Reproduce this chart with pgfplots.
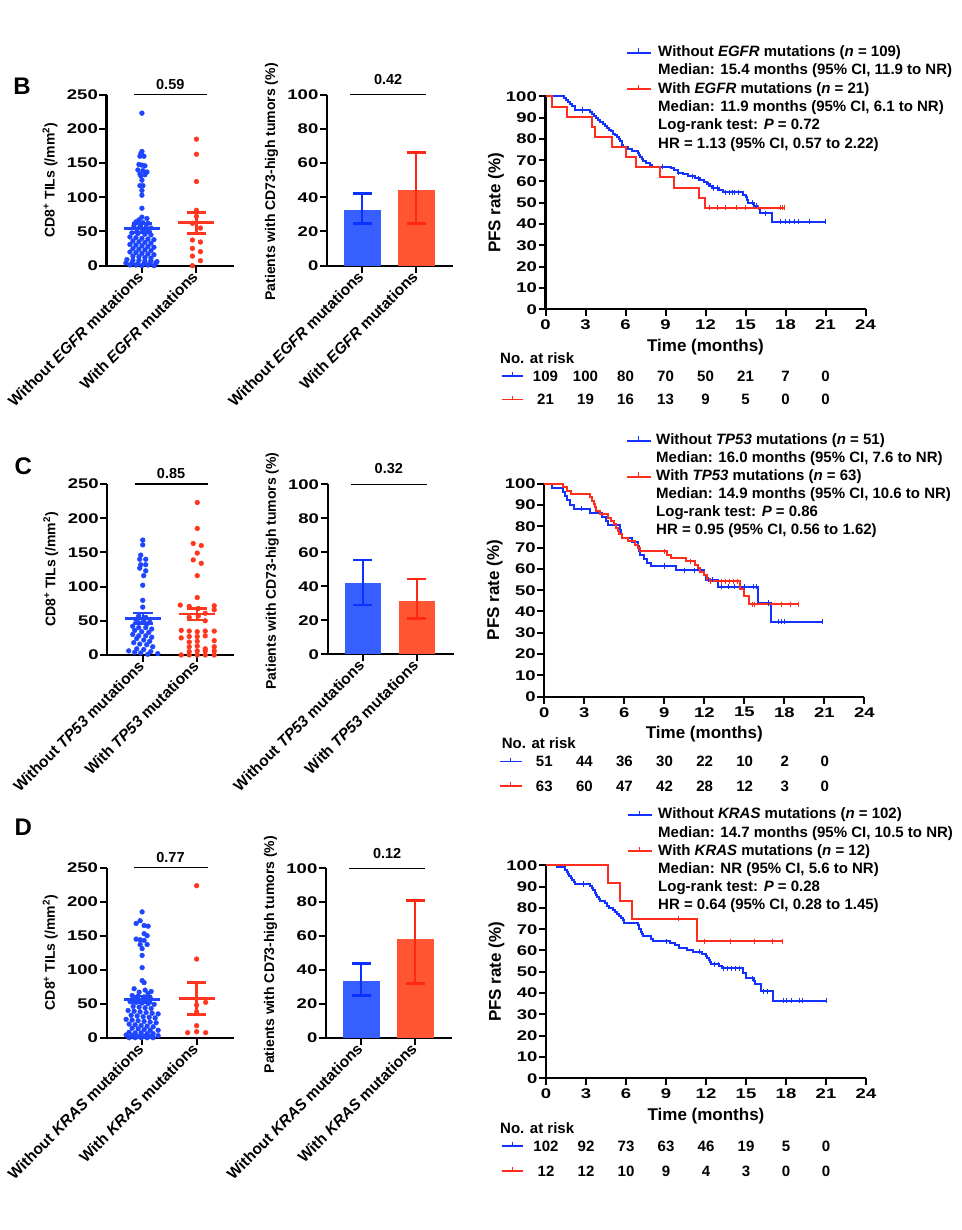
\documentclass[border=0pt]{standalone}
\usepackage{pgfplots}
\pgfplotsset{compat=1.18}
\usepackage{fontspec}
\setmainfont{Liberation Sans}
\newfontfamily\tickfont{Liberation Sans}[FakeStretch=1.32]
\newcommand\fs[1]{\fontsize{#1}{#1}\selectfont\bfseries}
\newcommand\tfs[1]{\tickfont\fontsize{#1}{#1}\selectfont\bfseries}
\definecolor{dotblue}{RGB}{30,70,255}
\definecolor{dotred}{RGB}{255,55,30}
\definecolor{barblue}{RGB}{55,95,255}
\definecolor{barred}{RGB}{255,85,50}
\definecolor{errblue}{RGB}{10,50,255}
\definecolor{errred}{RGB}{255,40,20}
\definecolor{kmblue}{RGB}{20,50,255}
\definecolor{kmred}{RGB}{255,45,30}
\pgfplotsset{
 base/.style={scale only axis, clip=false, anchor=south west,
   axis x line*=bottom, axis y line*=left,
   axis line style={line width=2.2pt, -},
   tick style={black, line width=2pt},
   tick align=outside,
   /pgf/number format/assume math mode=true,
   ticklabel style={font=\tfs{14}},
   yticklabel style={inner sep=1.5pt},
   label style={font=\fs{14}}},
 cat/.style={base, xmin=0.35, xmax=2.68, xtick={1,2}, major tick length=7pt,
   xticklabel style={rotate=45, anchor=east, font=\fs{15.5}, inner sep=2pt}, width=127pt, height=171pt},
 dot/.style={cat, ymin=0, ymax=250, ytick={0,50,...,250},
   ylabel={CD8\textsuperscript{+} TILs (/mm\textsuperscript{2})},
   ylabel style={at={(axis description cs:-0.445,0.5)}, anchor=center}},
 bar/.style={cat, width=126pt, ymin=0, ymax=100, ytick={0,20,...,100},
   ylabel={Patients with CD73-high tumors (\%)},
   ylabel style={at={(axis description cs:-0.44,0.49)}, anchor=center}},
 km/.style={base, width=320pt, height=213pt, xmin=0, xmax=24, ymin=0, ymax=100,
   xtick={0,3,...,24}, ytick={0,10,...,100}, major tick length=7pt,
   ticklabel style={font=\tfs{14}},
   xlabel={Time (months)}, ylabel={PFS rate (\%)}, label style={font=\fs{17}},
   xlabel style={at={(axis description cs:0.5,-0.176)}, anchor=center},
   ylabel style={at={(axis description cs:-0.155,0.5)}, anchor=center}},
 kml/.style={const plot, line width=2pt, mark=none},
 cens/.style={only marks, mark=|, mark size=2.6pt, mark options={line width=1pt}},
 dots/.style={only marks, mark=*, mark size=2.4pt},
 mline/.style={line width=2.4pt},
}
\begin{document}
\begin{tikzpicture}[x=1pt,y=1pt]
\path[use as bounding box] (0,0) rectangle (961,1230);

% ================= ROW B =================
\node[font=\fs{24}] at (22,1144) {B};
\begin{axis}[dot, at={(106.5pt,964.3pt)},
  xticklabels={Without \textit{EGFR} mutations, With \textit{EGFR} mutations}]
\addplot[dots, color=dotblue] table[row sep=\\, x expr=1+\thisrow{dx}/54.5, y=y]{
dx y\\ 0 223\\ 0 167\\ -1 164\\ -2 160\\ 2 160\\ -3 148\\ 0 147\\ 3 146\\ -4 140\\ 1 139\\
5 137\\ -2 134\\ 3 133\\ -1 131\\ 0 125\\ -2 117\\ 1 117\\ 0 110\\ 0 103\\ 0 84\\
0 71\\ 5 69\\ -3 67\\ -6 64\\ 1 63\\ 6 62\\ -8 58\\ -2 57\\ 4 56\\ 9 55\\ -5 53\\ 1 52\\ 6 51\\
-10 48\\ -4 47\\ 3 46\\ 9 45\\ -12 42\\ -6 41\\ 0 40\\ 6 39\\ 12 38\\ -9 36\\ -3 35\\ 3 34\\ 9 33\\
-12 31\\ -6 30\\ 0 29\\ 6 28\\ 12 27\\ -9 25\\ -3 24\\ 3 23\\ 9 22\\ -12 20\\ -6 19\\ 0 18\\ 6 17\\ 12 16\\
-9 14\\ -3 13\\ 3 12\\ 9 11\\ -15 9\\ -9 8\\ -3 8\\ 3 7\\ 9 7\\ 15 6\\ -16 4\\ -10 4\\ -4 3\\ 2 3\\ 8 3\\ 14 4\\
-12 1\\ -6 1\\ 0 0\\ 6 1\\ 12 0\\
};
\addplot[dots, color=dotred] table[row sep=\\, x expr=2+\thisrow{dx}/54.5, y=y]{
dx y\\ 0 185\\ 0 163\\ 0 123\\ 0 81\\ 0 72\\ -4 62\\ 4 55\\ -4 37.5\\ 4 34.6\\ -4 25.3\\ 4 20.5\\ -4 14\\ 4 7.3\\ -4 0\\
};
\addplot[mline, dotblue] coordinates {(0.67,54.6) (1.33,54.6)};
\addplot[mline, dotblue] coordinates {(1,48.7) (1,61.4)};
\addplot[mline, dotblue] coordinates {(0.82,61.4) (1.18,61.4)};
\addplot[mline, dotblue] coordinates {(0.82,48.7) (1.18,48.7)};
\addplot[mline, dotred] coordinates {(1.67,62.9) (2.33,62.9)};
\addplot[mline, dotred] coordinates {(2,47.3) (2,78)};
\addplot[mline, dotred] coordinates {(1.82,78) (2.18,78)};
\addplot[mline, dotred] coordinates {(1.82,47.3) (2.18,47.3)};
\addplot[black, line width=1.3pt] coordinates {(0.86,250) (2.2,250)};
\node[font=\fs{14.5}] at (axis cs:1.52,265) {0.59};
\end{axis}

\begin{axis}[bar, at={(327pt,964.3pt)},
  xticklabels={Without \textit{EGFR} mutations, With \textit{EGFR} mutations}]
\addplot[ybar, bar width=36.7pt, fill=barblue, draw=none] coordinates {(1,32.6)};
\addplot[ybar, bar width=36.7pt, fill=barred, draw=none] coordinates {(2,44.3)};
\addplot[mline, errblue] coordinates {(1,24.6) (1,42.3)};
\addplot[mline, errblue] coordinates {(0.825,42.3) (1.175,42.3)};
\addplot[mline, errblue] coordinates {(0.825,24.6) (1.175,24.6)};
\addplot[mline, errred] coordinates {(2,24.6) (2,66.3)};
\addplot[mline, errred] coordinates {(1.825,66.3) (2.175,66.3)};
\addplot[mline, errred] coordinates {(1.825,24.6) (2.175,24.6)};
\addplot[black, line width=1.3pt] coordinates {(0.78,100) (2.18,100)};
\node[font=\fs{14.5}] at (axis cs:1.48,109) {0.42};
\end{axis}

\begin{axis}[km, at={(545.5pt,920.7pt)}]
\addplot[kml, kmblue] coordinates {(0,100)(1.35,99.1)(1.5,98.2)(1.65,97.2)(1.8,96.3)(2.0,95.4)(2.2,93.6)(3.3,92.7)(3.5,91.7)(3.65,90.8)(3.8,89.9)(3.95,89.0)(4.1,88.1)(4.3,87.1)(4.45,86.2)(4.6,85.3)(4.75,84.4)(4.9,83.5)(5.05,82.5)(5.2,81.6)(5.35,80.7)(5.5,79.8)(5.6,78.9)(5.7,77.0)(5.8,76.1)(6.2,75.2)(6.5,74.3)(6.9,73.3)(7.0,72.4)(7.1,71.5)(7.2,70.6)(7.3,69.6)(7.5,68.7)(7.8,67.8)(8.0,67.0)(9.4,66.1)(9.6,65.2)(9.9,64.2)(10.3,63.3)(10.7,62.4)(11.2,61.5)(11.6,60.5)(11.9,59.6)(12.1,58.7)(12.3,57.8)(12.5,56.9)(13.0,56.0)(13.3,55.0)(14.8,53.8)(15.0,52.5)(15.1,51.2)(15.2,50.0)(15.6,48.7)(15.9,47.4)(16.1,45.1)(17.0,41.1)(21.0,41.1)};
\addplot[cens, kmblue] coordinates {(2.8,93.6)(8.8,67.0)(10.0,64.2)(11.0,62.4)(11.5,61.5)(12.2,58.7)(12.6,56.9)(12.9,56.9)(13.5,55.0)(13.8,55.0)(14.0,55.0)(14.2,55.0)(14.5,55.0)(15.5,50.0)(15.8,48.7)(16.5,45.1)(17.6,41.1)(18.0,41.1)(18.3,41.1)(18.7,41.1)(19.0,41.1)(19.8,41.1)(21.0,41.1)};
\addplot[kml, kmred] coordinates {(0,100)(0.5,95.2)(1.6,90.5)(3.45,85.7)(3.68,81.0)(5.0,76.2)(6.0,71.4)(6.8,66.7)(8.55,61.9)(9.65,57.1)(11.5,52.4)(11.95,47.6)(17.9,47.6)};
\addplot[cens, kmred] coordinates {(12.3,47.6)(12.9,47.6)(13.5,47.6)(14.3,47.6)(15.0,47.6)(16.0,47.6)(17.6,47.6)(17.8,47.6)(17.9,47.6)};
\end{axis}
% legend B
\draw[kmblue, line width=1.8pt] (626.7,1177.3) -- (650.7,1177.3);
\draw[kmblue, line width=1pt] (638.7,1177.3) -- (638.7,1181.5);
\draw[kmred, line width=1.8pt] (626.7,1140.7) -- (650.7,1140.7);
\draw[kmred, line width=1pt] (638.7,1140.7) -- (638.7,1144.9);
\begin{scope}[every node/.style={anchor=west, font=\fs{15}, inner sep=0pt}]
\node at (658,1177.3) {Without \textit{EGFR} mutations (\textit{n} = 109)};
\node at (658,1159.0) {Median: 15.4 months (95\% CI, 11.9 to NR)};
\node at (658,1140.7) {With \textit{EGFR} mutations (\textit{n} = 21)};
\node at (658,1122.4) {Median: 11.9 months (95\% CI, 6.1 to NR)};
\node at (658,1104.1) {Log-rank test: \textit{P} = 0.72};
\node at (658,1085.8) {HR = 1.13 (95\% CI, 0.57 to 2.22)};
\node at (500,871.7) {No. at risk};
\end{scope}
\draw[kmblue, line width=1.5pt] (501.7,854) -- (523.3,854);
\draw[kmblue, line width=0.8pt] (512.5,854) -- (512.5,857.5);
\draw[kmred, line width=1.5pt] (501.7,830.7) -- (523.3,830.7);
\draw[kmred, line width=0.8pt] (512.5,830.7) -- (512.5,834.2);
\foreach \v [count=\i from 0] in {109,100,80,70,50,21,7,0} {\node[font=\fs{15}] at ({545.5+40*\i},854) {\v};}
\foreach \v [count=\i from 0] in {21,19,16,13,9,5,0,0} {\node[font=\fs{15}] at ({545.5+40*\i},830.7) {\v};}

% ================= ROW C =================
\node[font=\fs{24}] at (23.3,764) {C};
\begin{axis}[dot, at={(107.3pt,575pt)},
  xticklabels={Without \textit{TP53} mutations, With \textit{TP53} mutations}]
\addplot[dots, color=dotblue] table[row sep=\\, x expr=1+\thisrow{dx}/54.5, y=y]{
dx y\\ 0 168\\ 0 161\\ -2 146\\ -3 140\\ 3 140\\ -2 132\\ 3 132\\ -3 127\\ 3 123\\ 1 116\\ 0 102\\ 0 80\\ 0 70\\
-4 57\\ 3 55\\ -7 52\\ 1 50\\ 7 48\\ -4 47\\ 4 45\\ -10 42\\ -4 40\\ 3 40\\ 9 38\\ -8 36\\ -1 34\\ 6 33\\
-10 30\\ -4 28\\ 3 28\\ 9 26\\ -6 24\\ 1 22\\ 7 20\\ -9 18\\ -3 16\\ 4 15\\ 10 12\\ -6 9\\ 1 8\\ -14 6\\ 8 5\\ -8 4\\ -2 3\\ 15 2\\ 5 1\\
};
\addplot[dots, color=dotred] table[row sep=\\, x expr=2+\thisrow{dx}/54.5, y=y]{
dx y\\ 0 223\\ 0 185\\ -4 163\\ 4 160\\ 0 149\\ -4 139\\ 4 134\\ 0 116\\ 0 84\\
-17 73\\ -8 71\\ 1 68\\ 17 72\\ 17 66\\ 1 57\\ 8 50\\ -8 55\\ 8 61\\
-16 36\\ -8 35\\ 0 34\\ 8 35\\ 17 35\\ -16 25\\ -8 27\\ 0 27\\ 8 28\\ -8 19\\ 0 20\\ 17 21\\
-8 12\\ 0 13\\ 8 9\\ 17 12\\ -8 5\\ 0 6\\ 8 6\\ 17 6\\ -16 0\\ -8 0\\ 0 0\\ 8 0\\ 17 0\\
};
\addplot[mline, dotblue] coordinates {(0.67,53.6) (1.33,53.6)};
\addplot[mline, dotblue] coordinates {(1,46.3) (1,61)};
\addplot[mline, dotblue] coordinates {(0.82,61) (1.18,61)};
\addplot[mline, dotblue] coordinates {(0.82,46.3) (1.18,46.3)};
\addplot[mline, dotred] coordinates {(1.67,59.5) (2.33,59.5)};
\addplot[mline, dotred] coordinates {(2,51) (2,68)};
\addplot[mline, dotred] coordinates {(1.82,68) (2.18,68)};
\addplot[mline, dotred] coordinates {(1.82,51) (2.18,51)};
\addplot[black, line width=1.3pt] coordinates {(0.86,250) (2.2,250)};
\node[font=\fs{14.5}] at (axis cs:1.52,265) {0.85};
\end{axis}

\begin{axis}[bar, at={(327.7pt,575.7pt)}, height=170pt,
  xticklabels={Without \textit{TP53} mutations, With \textit{TP53} mutations}]
\addplot[ybar, bar width=36.7pt, fill=barblue, draw=none] coordinates {(1,41.8)};
\addplot[ybar, bar width=36.7pt, fill=barred, draw=none] coordinates {(2,31.4)};
\addplot[mline, errblue] coordinates {(1,29) (1,55.5)};
\addplot[mline, errblue] coordinates {(0.825,55.5) (1.175,55.5)};
\addplot[mline, errblue] coordinates {(0.825,29) (1.175,29)};
\addplot[mline, errred] coordinates {(2,21) (2,44.3)};
\addplot[mline, errred] coordinates {(1.825,44.3) (2.175,44.3)};
\addplot[mline, errred] coordinates {(1.825,21) (2.175,21)};
\addplot[black, line width=1.3pt] coordinates {(0.78,100) (2.18,100)};
\node[font=\fs{14.5}] at (axis cs:1.48,109) {0.32};
\end{axis}

\begin{axis}[km, at={(544.3pt,533.3pt)}]
\addplot[kml, kmblue] coordinates {(0,100)(0.55,98.0)(1.4,96.1)(1.55,94.1)(1.7,92.2)(1.9,90.2)(2.2,88.2)(3.4,86.3)(4.3,84.3)(4.6,82.4)(4.8,80.4)(5.7,78.4)(5.75,76.5)(5.8,74.5)(6.6,72.5)(7.0,70.6)(7.1,68.6)(7.2,66.7)(7.45,64.7)(7.7,62.7)(8.0,61.4)(9.9,59.4)(11.95,57.3)(12.1,54.9)(13.0,51.6)(16.0,44.0)(17.0,35.3)(20.9,35.3)};
\addplot[cens, kmblue] coordinates {(2.8,88.2)(9.0,61.4)(10.5,59.4)(11.3,59.4)(12.3,54.9)(12.6,54.9)(13.3,51.6)(13.8,51.6)(14.3,51.6)(15.0,51.6)(15.7,51.6)(15.9,51.6)(16.8,44.0)(17.6,35.3)(17.8,35.3)(18.0,35.3)(20.9,35.3)};
\addplot[kml, kmred] coordinates {(0,100)(1.4,98.4)(1.7,96.8)(2.0,95.2)(3.4,93.7)(3.6,92.1)(3.7,90.5)(3.8,88.9)(3.9,87.3)(4.2,85.7)(4.8,84.1)(5.0,82.5)(5.2,80.9)(5.4,79.3)(5.5,77.8)(5.6,76.2)(5.8,74.6)(6.3,73.0)(6.8,71.4)(7.0,69.8)(7.2,68.3)(9.2,66.7)(9.5,65.1)(10.6,63.5)(11.3,61.9)(11.5,60.3)(11.7,58.6)(12.0,57.0)(12.2,55.4)(12.4,54.1)(14.7,50.7)(15.0,47.3)(15.35,43.3)(19.1,43.3)};
\addplot[cens, kmred] coordinates {(9.0,68.3)(11.0,63.5)(12.5,54.1)(13.3,54.1)(13.6,54.1)(13.9,54.1)(14.2,54.1)(14.5,54.1)(15.6,43.3)(15.8,43.3)(17.8,43.3)(18.5,43.3)(19.1,43.3)};
\end{axis}
\draw[kmblue, line width=1.8pt] (626.7,789.3) -- (650.7,789.3);
\draw[kmblue, line width=1pt] (638.7,789.3) -- (638.7,793.5);
\draw[kmred, line width=1.8pt] (626.7,753.3) -- (650.7,753.3);
\draw[kmred, line width=1pt] (638.7,753.3) -- (638.7,757.5);
\begin{scope}[every node/.style={anchor=west, font=\fs{15}, inner sep=0pt}]
\node at (656,789.3) {Without \textit{TP53} mutations (\textit{n} = 51)};
\node at (656,771.3) {Median: 16.0 months (95\% CI, 7.6 to NR)};
\node at (656,753.3) {With \textit{TP53} mutations (\textit{n} = 63)};
\node at (656,735.3) {Median: 14.9 months (95\% CI, 10.6 to NR)};
\node at (656,717.3) {Log-rank test: \textit{P} = 0.86};
\node at (656,699.3) {HR = 0.95 (95\% CI, 0.56 to 1.62)};
\node at (501.7,487.3) {No. at risk};
\end{scope}
\draw[kmblue, line width=1.5pt] (500,468.3) -- (521.7,468.3);
\draw[kmblue, line width=0.8pt] (510.8,468.3) -- (510.8,471.8);
\draw[kmred, line width=1.5pt] (500,444) -- (521.7,444);
\draw[kmred, line width=0.8pt] (510.8,444) -- (510.8,447.5);
\foreach \v [count=\i from 0] in {51,44,36,30,22,10,2,0} {\node[font=\fs{15}] at ({544.3+40.08*\i},468.3) {\v};}
\foreach \v [count=\i from 0] in {63,60,47,42,28,12,3,0} {\node[font=\fs{15}] at ({544.3+40.08*\i},444) {\v};}

% ================= ROW D =================
\node[font=\fs{24}] at (23.3,402.5) {D};
\begin{axis}[dot, at={(106.7pt,192.3pt)}, height=170pt,
  xticklabels={Without \textit{KRAS} mutations, With \textit{KRAS} mutations}]
\addplot[dots, color=dotblue] table[row sep=\\, x expr=1+\thisrow{dx}/54.5, y=y]{
dx y\\ 0 185\\ -6 168\\ -2 172\\ 2 165\\ 6 164\\ 2 153\\ 5 150\\ -6 145\\ -2 144\\ 2 143\\ -2 137\\ 5 137\\ 0 131\\ 0 121\\ 0 103\\ 0 84\\ 2 81\\
-8 72\\ 3 70\\ 9 68\\ -3 67\\ 6 65\\ -10 62\\ -4 61\\ 2 60\\ 8 59\\ -7 57\\ 5 56\\
-12 53\\ -6 52\\ 0 51\\ 6 50\\ 12 49\\ -9 46\\ -3 45\\ 3 44\\ 9 43\\
-14 40\\ -8 39\\ -2 38\\ 4 37\\ 10 36\\ 16 35\\ -11 33\\ -5 32\\ 1 31\\ 7 30\\ 13 29\\
-16 27\\ -10 26\\ -4 25\\ 2 24\\ 8 23\\ 14 22\\ -13 20\\ -7 19\\ -1 18\\ 5 17\\ 11 16\\
-10 14\\ -4 13\\ 2 12\\ 8 11\\ 16 11\\ -13 8\\ -7 7\\ -1 7\\ 5 6\\ 11 6\\
-16 4\\ -10 3\\ -4 2\\ 2 2\\ 8 2\\ 16 3\\ -13 0\\ -7 0\\ -1 0\\ 5 0\\ 11 0\\
};
\addplot[dots, color=dotred] table[row sep=\\, x expr=2+\thisrow{dx}/54.5, y=y]{
dx y\\ 0 223.5\\ 0 115.7\\ 9 52\\ 0 48\\ 0 38\\ 0 17.6\\ -9 7.4\\ 0 8.8\\ 9 7.4\\
};
\addplot[mline, dotblue] coordinates {(0.67,56.4) (1.33,56.4)};
\addplot[mline, dotblue] coordinates {(1,51.5) (1,61.3)};
\addplot[mline, dotblue] coordinates {(0.82,61.3) (1.18,61.3)};
\addplot[mline, dotblue] coordinates {(0.82,51.5) (1.18,51.5)};
\addplot[mline, dotred] coordinates {(1.67,57.8) (2.33,57.8)};
\addplot[mline, dotred] coordinates {(2,34.3) (2,81.4)};
\addplot[mline, dotred] coordinates {(1.82,81.4) (2.18,81.4)};
\addplot[mline, dotred] coordinates {(1.82,34.3) (2.18,34.3)};
\addplot[black, line width=1.3pt] coordinates {(0.86,250) (2.2,250)};
\node[font=\fs{14.5}] at (axis cs:1.52,265) {0.77};
\end{axis}

\begin{axis}[bar, at={(326pt,192.3pt)}, height=169.4pt,
  xticklabels={Without \textit{KRAS} mutations, With \textit{KRAS} mutations}]
\addplot[ybar, bar width=36.7pt, fill=barblue, draw=none] coordinates {(1,33.5)};
\addplot[ybar, bar width=36.7pt, fill=barred, draw=none] coordinates {(2,58.3)};
\addplot[mline, errblue] coordinates {(1,25) (1,43.7)};
\addplot[mline, errblue] coordinates {(0.825,43.7) (1.175,43.7)};
\addplot[mline, errblue] coordinates {(0.825,25) (1.175,25)};
\addplot[mline, errred] coordinates {(2,31.9) (2,80.9)};
\addplot[mline, errred] coordinates {(1.825,80.9) (2.175,80.9)};
\addplot[mline, errred] coordinates {(1.825,31.9) (2.175,31.9)};
\addplot[black, line width=1.3pt] coordinates {(0.78,100) (2.18,100)};
\node[font=\fs{14.5}] at (axis cs:1.48,109) {0.12};
\end{axis}

\begin{axis}[km, at={(546pt,151.7pt)}]
\addplot[kml, kmblue] coordinates {(0,100)(0.8,99.0)(1.4,98.0)(1.55,97.0)(1.65,96.0)(1.75,95.0)(1.85,94.0)(1.95,93.0)(2.1,92.1)(2.2,91.2)(3.3,90.2)(3.45,89.2)(3.55,88.2)(3.65,87.2)(3.75,86.2)(3.85,85.2)(3.95,84.2)(4.05,83.1)(4.4,82.1)(4.6,81.1)(4.7,80.1)(5.0,79.1)(5.2,78.1)(5.35,77.1)(5.5,76.1)(5.65,75.1)(5.75,74.1)(5.85,72.9)(6.9,71.9)(7.0,70.2)(7.1,68.6)(7.2,67.6)(7.3,66.6)(7.9,65.4)(8.0,64.4)(9.3,63.4)(9.7,62.4)(10.0,61.4)(10.6,60.4)(11.0,59.4)(11.7,58.4)(12.0,57.4)(12.1,56.4)(12.2,55.5)(12.3,54.5)(12.4,53.5)(13.0,52.5)(13.2,51.7)(14.8,49.6)(15.0,47.0)(15.6,45.5)(15.7,44.4)(16.1,40.8)(17.0,36.4)(21.0,36.4)};
\addplot[cens, kmblue] coordinates {(2.8,91.2)(9.0,64.4)(11.5,59.4)(12.6,53.5)(12.9,53.5)(13.3,51.7)(13.6,51.7)(13.9,51.7)(14.2,51.7)(14.5,51.7)(15.5,47.0)(16.3,40.8)(16.6,40.8)(17.8,36.4)(18.0,36.4)(18.4,36.4)(19.0,36.4)(19.2,36.4)(21.0,36.4)};
\addplot[kml, kmred] coordinates {(0,100)(4.68,91.7)(5.56,83.3)(6.43,75.0)(11.34,64.3)(17.7,64.3)};
\addplot[cens, kmred] coordinates {(9.9,75.0)(11.9,64.3)(13.8,64.3)(15.6,64.3)(17.0,64.3)(17.7,64.3)};
\end{axis}
\draw[kmblue, line width=1.8pt] (627.7,415) -- (651.7,415);
\draw[kmblue, line width=1pt] (639.7,415) -- (639.7,419.2);
\draw[kmred, line width=1.8pt] (627.7,378.6) -- (651.7,378.6);
\draw[kmred, line width=1pt] (639.7,378.6) -- (639.7,382.8);
\begin{scope}[every node/.style={anchor=west, font=\fs{15}, inner sep=0pt}]
\node at (658,415) {Without \textit{KRAS} mutations (\textit{n} = 102)};
\node at (658,396.8) {Median: 14.7 months (95\% CI, 10.5 to NR)};
\node at (658,378.6) {With \textit{KRAS} mutations (\textit{n} = 12)};
\node at (658,360.4) {Median: NR (95\% CI, 5.6 to NR)};
\node at (658,342.2) {Log-rank test: \textit{P} = 0.28};
\node at (658,324) {HR = 0.64 (95\% CI, 0.28 to 1.45)};
\node at (500,101.7) {No. at risk};
\end{scope}
\draw[kmblue, line width=1.5pt] (501.7,84) -- (523.3,84);
\draw[kmblue, line width=0.8pt] (512.5,84) -- (512.5,87.5);
\draw[kmred, line width=1.5pt] (501.7,59) -- (523.3,59);
\draw[kmred, line width=0.8pt] (512.5,59) -- (512.5,62.5);
\foreach \v [count=\i from 0] in {102,92,73,63,46,19,5,0} {\node[font=\fs{15}] at ({546+40*\i},84) {\v};}
\foreach \v [count=\i from 0] in {12,12,10,9,4,3,0,0} {\node[font=\fs{15}] at ({546+40*\i},59) {\v};}
\end{tikzpicture}
\end{document}
